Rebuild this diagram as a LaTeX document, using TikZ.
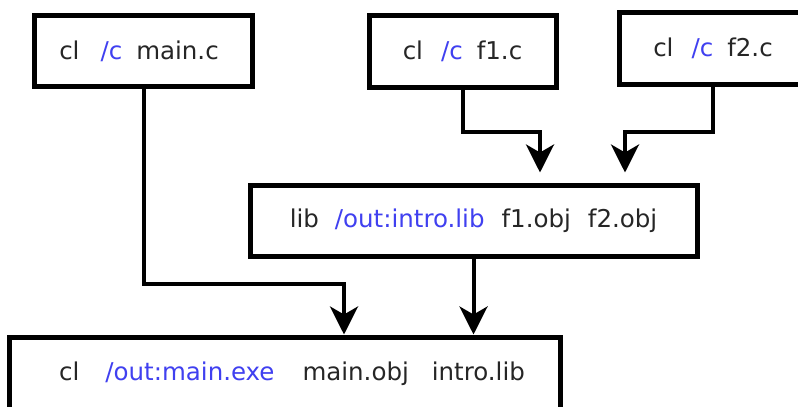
\documentclass[tikz,border=0pt]{standalone}
\usepackage{fontspec}
\setmainfont{DejaVu Sans}
\usetikzlibrary{arrows.meta,calc}
\definecolor{ink}{RGB}{38,38,38}
\definecolor{flag}{RGB}{64,64,240}
\begin{document}
\begin{tikzpicture}[x=1pt,y=-1pt,line join=miter,
  box/.style={draw=black, line width=5pt, rectangle, inner sep=0pt,
    fill=white, text=ink, font=\fontsize{24.5}{28}\selectfont},
  link/.style={line width=4pt,
    -{Stealth[length=28pt,width=28pt,inset=8pt]}}]
\useasboundingbox (0,0) rectangle (798,407);
\clip (0,0) rectangle (798,407);
\fill[white] (0,0) rectangle (798,407);

% compile steps
\node[box, minimum width=218.5pt, minimum height=71.5pt] (main) at (143.5,51)
  {cl\hspace{21pt}\textcolor{flag}{/c}\hspace{14pt}main.c\hspace*{9pt}};
\node[box, minimum width=187pt, minimum height=72pt] (f1) at (462.5,51)
  {cl\hspace{18pt}\textcolor{flag}{/c}\hspace{14pt}f1.c};
\node[box, minimum width=188pt, minimum height=72pt] (f2) at (713,48)
  {cl\hspace{18pt}\textcolor{flag}{/c}\hspace{14pt}f2.c};

% library step
\node[box, minimum width=447pt, minimum height=71pt] (lib) at (473.5,220.5)
  {lib\hspace{16pt}\textcolor{flag}{/out:intro.lib}\hspace{17pt}f1.obj\hspace{17pt}f2.obj};

% link step
\node[box, minimum width=551pt, minimum height=74pt] (exe) at (285,374)
  {\hspace*{14pt}cl\hspace{26pt}\textcolor{flag}{/out:main.exe}\hspace{28pt}main.obj\hspace{23pt}intro.lib};

% connectors
\coordinate (mj) at (344,284);
\coordinate (f1j) at (540,132);
\coordinate (f2j) at (625,132);
\draw[link] (main.south) |- (mj) -- (mj |- exe.north);
\draw[link] (f1.south) |- (f1j) -- ($(f1j |- lib.north)+(0,-10)$);
\draw[link] (f2.south) |- (f2j) -- ($(f2j |- lib.north)+(0,-10)$);
\draw[link] (lib.south) -- (lib.south |- exe.north);
\end{tikzpicture}
\end{document}
